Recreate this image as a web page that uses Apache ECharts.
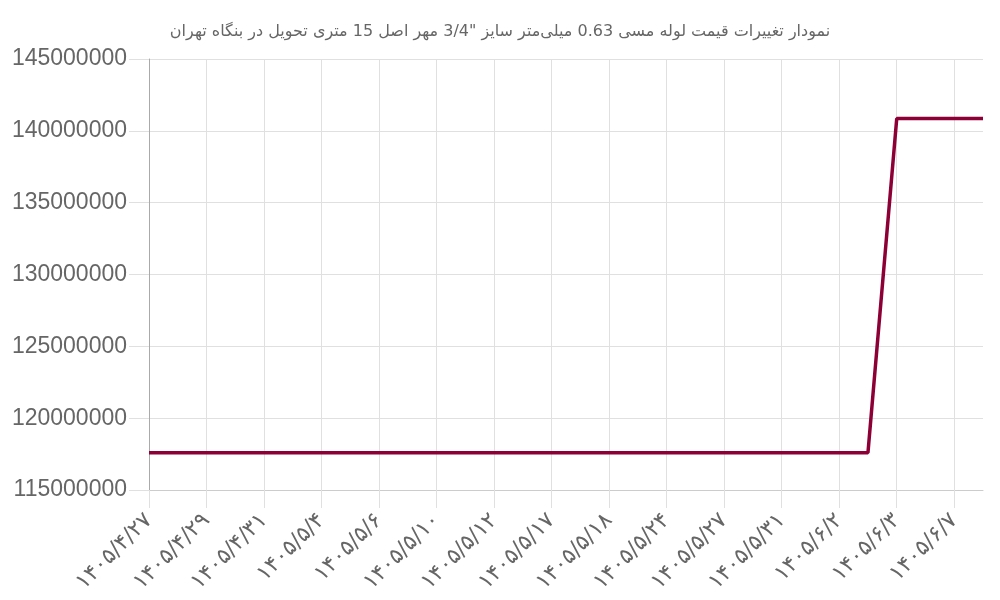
<!DOCTYPE html>
<html>
<head>
<meta charset="utf-8">
<script src="https://cdn.jsdelivr.net/npm/echarts@6/dist/echarts.min.js"></script>
<style>html,body{margin:0;padding:0;background:#fff}#c{width:1000px;height:600px}</style>
</head>
<body>
<div id="c"></div>
<script>
const titleText = 'نمودار تغییرات قیمت لوله مسی 0.63 میلی‌متر سایز "3/4 مهر اصل 15 متری تحویل در بنگاه تهران';
const categories = [
  '۱۴۰۵/۴/۲۷','۱۴۰۵/۴/۲۸','۱۴۰۵/۴/۲۹','۱۴۰۵/۴/۳۰','۱۴۰۵/۴/۳۱','۱۴۰۵/۵/۱',
  '۱۴۰۵/۵/۴','۱۴۰۵/۵/۵','۱۴۰۵/۵/۶','۱۴۰۵/۵/۷','۱۴۰۵/۵/۱۰','۱۴۰۵/۵/۱۱',
  '۱۴۰۵/۵/۱۲','۱۴۰۵/۵/۱۴','۱۴۰۵/۵/۱۷','۱۴۰۵/۵/۱۷','۱۴۰۵/۵/۱۸','۱۴۰۵/۵/۲۰',
  '۱۴۰۵/۵/۲۴','۱۴۰۵/۵/۲۵','۱۴۰۵/۵/۲۷','۱۴۰۵/۵/۲۸','۱۴۰۵/۵/۳۱','۱۴۰۵/۶/۱',
  '۱۴۰۵/۶/۲','۱۴۰۵/۶/۲','۱۴۰۵/۶/۳','۱۴۰۵/۶/۴','۱۴۰۵/۶/۷','۱۴۰۵/۶/۸'
];
const prices = [
  117600000,117600000,117600000,117600000,117600000,117600000,
  117600000,117600000,117600000,117600000,117600000,117600000,
  117600000,117600000,117600000,117600000,117600000,117600000,
  117600000,117600000,117600000,117600000,117600000,117600000,
  117600000,117600000,140850000,140850000,140850000,140850000
];
const yMin = 115000000, yMax = 145000000, yStep = 5000000;

const chart = echarts.init(document.getElementById('c'));
chart.setOption({
  animation: false,
  title: {
    text: titleText, left: 'center', top: 19,
    textStyle: {fontFamily: 'DejaVu Sans', fontSize: 16, fontWeight: 'normal', color: '#666'}
  },
  grid: {left: 149, right: 17, top: 59, bottom: 110, containLabel: false},
  xAxis: {
    type: 'category', data: categories, boundaryGap: false,
    axisLine: {show: true, lineStyle: {color: '#ccc'}},
    axisTick: {show: true, interval: 1, length: 18, lineStyle: {color: '#e0e0e0'}},
    splitLine: {show: true, interval: 1, lineStyle: {color: '#e0e0e0'}},
    axisLabel: {interval: 1, rotate: 45, margin: 27, fontFamily: 'DejaVu Sans', fontSize: 22, color: '#666'}
  },
  yAxis: {
    type: 'value', min: yMin, max: yMax, interval: yStep,
    axisLine: {show: true, lineStyle: {color: '#aaa'}},
    axisTick: {show: true, length: 20, lineStyle: {color: '#e0e0e0'}},
    splitLine: {show: true, lineStyle: {color: '#e0e0e0'}},
    axisLabel: {margin: 22, fontFamily: 'Liberation Sans', fontSize: 23, color: '#666',
      formatter: v => String(v)}
  },
  series: [{
    type: 'line', data: prices, showSymbol: false, symbol: 'none',
    lineStyle: {color: '#8c0036', width: 3.5}
  }]
});
</script>
</body>
</html>
